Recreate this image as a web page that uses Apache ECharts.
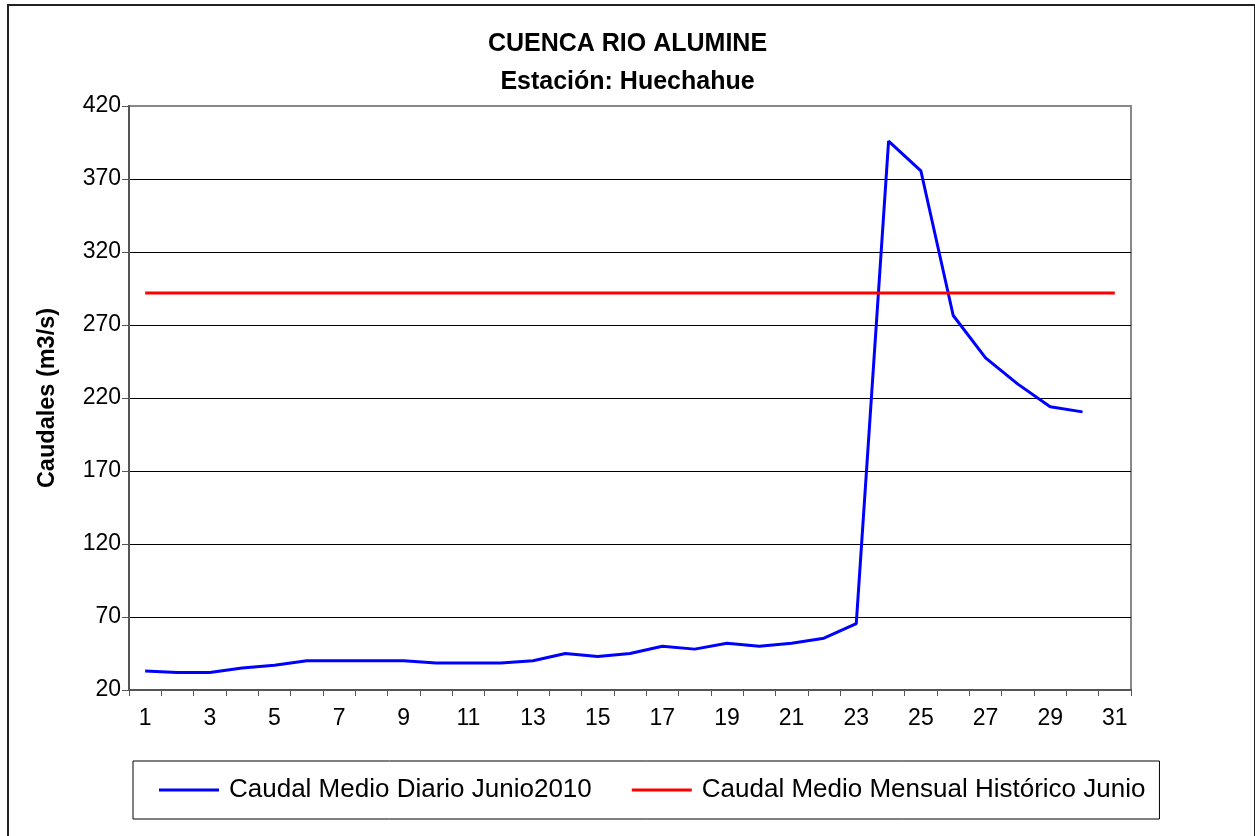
<!DOCTYPE html>
<html>
<head>
<meta charset="utf-8">
<script src="https://cdn.jsdelivr.net/npm/echarts@6/dist/echarts.min.js"></script>
<style>
  html, body { margin: 0; padding: 0; background: #fff; }
  #frame {
    position: absolute; left: 7px; top: 4px;
    width: 1245px; height: 900px;
    border: 2px solid #222;
  }
  #chart { position: absolute; left: 0; top: 0; width: 1255px; height: 836px; }
</style>
</head>
<body>
<div id="frame"></div>
<div id="chart"></div>
<script>
// dias del mes
var dias = [];
for (var d = 1; d <= 31; d++) dias.push(String(d));

// caudal medio diario junio 2010 (m3/s), dias 1..30
var caudalDiario = [33, 32, 32, 35, 37, 40, 40, 40, 40, 38.5, 38.5, 38.5, 40, 45, 43,
  45, 50, 48, 52, 50, 52, 55.5, 65.5, 396, 375.5, 276.5, 247.5, 229.5, 214, 210.5];

// caudal medio mensual historico junio
var caudalHistorico = [];
for (var i = 0; i < 31; i++) caudalHistorico.push(292);

var yMin = 20, yMax = 420, yPaso = 50;

// lineas de division: la de arriba queda gris como el borde
var coloresDivision = ["#000", "#000", "#000", "#000", "#000", "#000", "#000", "#000", "#888"];

var myChart = echarts.init(document.getElementById("chart"));
var option = {
  backgroundColor: "transparent",
  animation: false,
  textStyle: { fontFamily: "Liberation Sans, Arial, sans-serif", color: "#000" },
  title: {
    text: "CUENCA RIO ALUMINE\nEstación: Huechahue",
    left: "center",
    top: 20,
    textStyle: { fontSize: 25, fontWeight: "bold", lineHeight: 38, color: "#000" },
  },
  legend: {
    data: ["Caudal Medio Diario Junio2010", "Caudal Medio Mensual Histórico Junio"],
    left: 133,
    top: 761,
    padding: [16, 14, 16, 26],
    itemGap: 40,
    itemWidth: 60,
    itemHeight: 3,
    icon: "rect",
    borderColor: "#000",
    borderWidth: 1,
    textStyle: { fontSize: 26, color: "#000", padding: [0, 0, 0, 5] },
  },
  grid: {
    left: 129,
    right: 124,
    top: 106,
    bottom: 146,
    show: true,
    borderColor: "#888",
    borderWidth: 2,
  },
  xAxis: {
    type: "category",
    boundaryGap: true,
    data: dias,
    axisLine: { lineStyle: { color: "#555", width: 2 } },
    axisTick: { show: true, interval: 0, length: 6, lineStyle: { color: "#555" } },
    axisLabel: { interval: 1, fontSize: 23, color: "#000", margin: 17 },
  },
  yAxis: {
    type: "value",
    min: yMin,
    max: yMax,
    interval: yPaso,
    name: "Caudales (m3/s)",
    nameLocation: "middle",
    nameRotate: 90,
    nameGap: 69,
    nameTextStyle: { fontSize: 23.5, fontWeight: "bold", color: "#000" },
    axisLine: { show: true, lineStyle: { color: "#555", width: 2 } },
    axisTick: { show: true, length: 7, lineStyle: { color: "#555" } },
    axisLabel: { fontSize: 23, color: "#000", margin: 8 },
    splitLine: { lineStyle: { color: coloresDivision, width: 1 } },
  },
  series: [
    {
      name: "Caudal Medio Diario Junio2010",
      type: "line",
      data: caudalDiario,
      symbol: "none",
      lineStyle: { color: "#0000ff", width: 3 },
      itemStyle: { color: "#0000ff" },
    },
    {
      name: "Caudal Medio Mensual Histórico Junio",
      type: "line",
      data: caudalHistorico,
      symbol: "none",
      lineStyle: { color: "#ff0000", width: 3 },
      itemStyle: { color: "#ff0000" },
    },
  ],
};
myChart.setOption(option);
</script>
</body>
</html>
